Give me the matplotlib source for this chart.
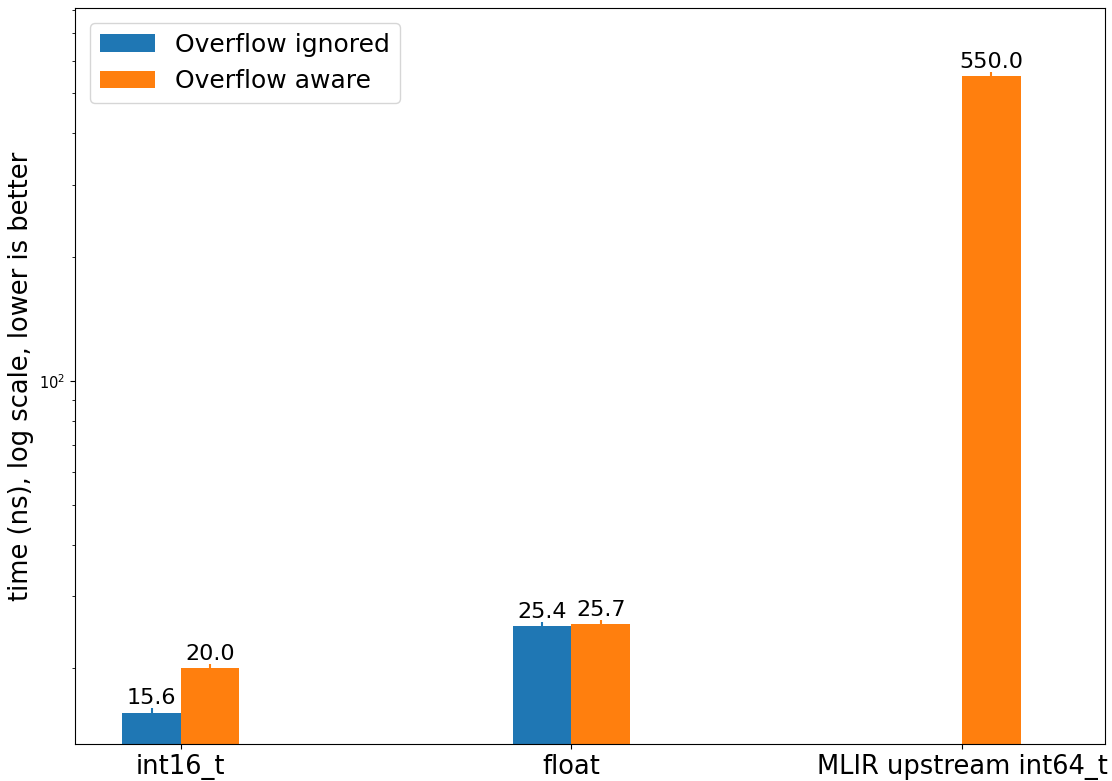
import matplotlib
matplotlib.use('Agg')
import matplotlib.pyplot as plt
import numpy as np

categories = ["int16_t", "float", "MLIR upstream int64_t"]
ignored = [15.6, 25.4, np.nan]
aware = [20.0, 25.7, 550.0]
ignored_err = [0.4, 0.5, 0.0]
aware_err = [0.5, 0.5, 14.0]
labels = ["Overflow ignored", "Overflow aware"]

fig, ax = plt.subplots(figsize=(11.12, 7.81), dpi=100)
x = np.arange(len(categories))
w = 0.15

b1 = ax.bar(x - w / 2, ignored, w, yerr=ignored_err, ecolor='tab:blue',
            color='tab:blue', label=labels[0])
b2 = ax.bar(x + w / 2, aware, w, yerr=aware_err, ecolor='tab:orange',
            color='tab:orange', label=labels[1])

ax.set_yscale('log')
ax.bar_label(b1, labels=["" if np.isnan(v) else "%.1f" % v for v in ignored], fontsize=16)
ax.bar_label(b2, labels=["%.1f" % v for v in aware], fontsize=16)

ax.set_xticks(x)
ax.set_xticklabels(categories, fontsize=18.5)
ax.tick_params(axis='y', which='major', labelsize=10.5)
ax.set_xlim(-0.271, 2.366)
ax.set_ylim(13.1, 807)
ax.set_ylabel("time (ns), log scale, lower is better", fontsize=18.5)
ax.legend(loc='upper left', fontsize=18, handlelength=2.2, borderaxespad=0.6)

plt.subplots_adjust(left=0.0674, right=0.9937, bottom=0.0474, top=0.9898)
plt.savefig("out.png")
